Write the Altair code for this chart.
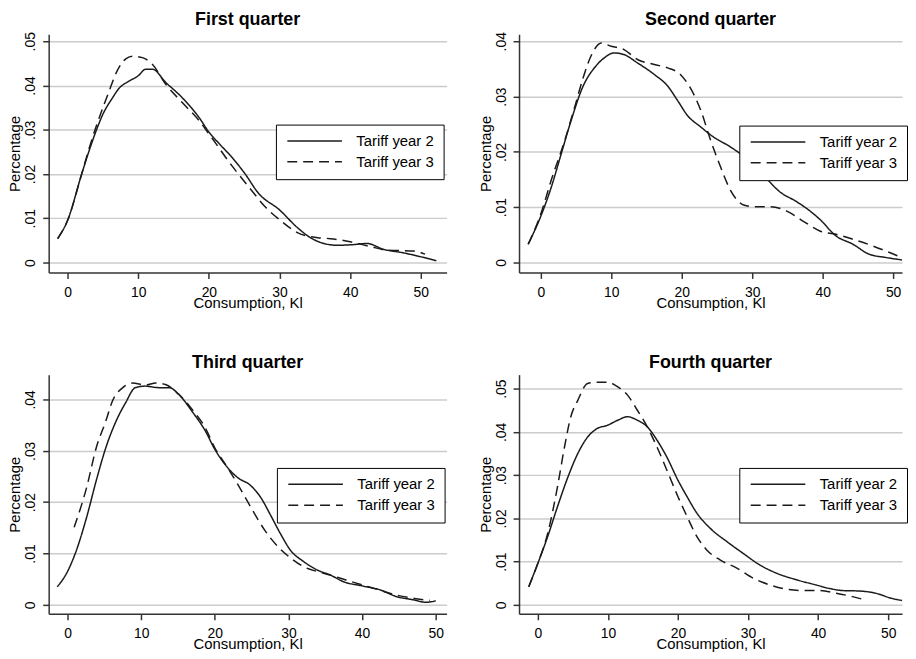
import altair as alt
import pandas as pd

SERIES = ["Tariff year 2", "Tariff year 3"]
X_TICKS = [0, 10, 20, 30, 40, 50]

# ---- First quarter ----
q1_x2 = [-1.4, 0, 2, 3, 4.1, 5, 6.4, 7.3, 8.5, 10, 11.1, 12, 13.9, 16.2, 18.6, 20, 21.5, 23.2, 25.1, 27, 30, 32.6, 34.4, 36.3, 38.2, 40, 42.4, 44.7, 47.5, 50, 52.2]
q1_y2 = [.0054, .0095, .0200, .0250, .0300, .0335, .0373, .0394, .0408, .0422, .0437, .0437, .0407, .0373, .0328, .0295, .0268, .0239, .0201, .0157, .0119, .0078, .0056, .0043, .0039, .0040, .0043, .0030, .0022, .0013, .0004]
q1_x3 = [-1.4, 0, 2, 3, 4, 5, 5.9, 6.9, 8.3, 9.2, 10.6, 12, 13.9, 16.2, 18.6, 20, 23.2, 26, 27.9, 30, 32.6, 35.4, 37.2, 40, 42.9, 45.2, 49, 50.6]
q1_y3 = [.0054, .0095, .0200, .0255, .0305, .0350, .0388, .0429, .0461, .0466, .0463, .0448, .0403, .0362, .0321, .0291, .0220, .0164, .0127, .0097, .0067, .0056, .0054, .0047, .0036, .0028, .0026, .0019]

# ---- Second quarter ----
q2_x2 = [-1.8, 0, 1.5, 2.9, 4.3, 6.0, 7.6, 9.0, 10.4, 11.8, 13.7, 16.1, 18.0, 19.4, 20.8, 22.7, 24.5, 26.9, 29.2, 31.6, 33.9, 36.3, 37.7, 39.6, 41.9, 44.3, 46.6, 49.0, 52.3]
q2_y2 = [.0033, .0084, .0137, .0197, .0257, .0319, .0352, .0370, .0379, .0376, .0361, .0340, .0319, .0293, .0266, .0245, .0227, .0209, .0188, .0158, .0128, .0110, .0098, .0078, .0048, .0033, .0015, .0009, .0003]
q2_x3 = [-1.8, 0, 1.5, 3.4, 4.8, 6.0, 7.1, 8.6, 10, 11.8, 13.7, 16.1, 18, 19.8, 21.2, 22.7, 24.1, 25.5, 26.9, 28.8, 30.2, 32.5, 34.9, 37.2, 39.6, 41.9, 44.3, 47.1, 49.5, 52.3]
q2_y3 = [.0033, .0088, .0150, .0221, .0281, .0334, .0373, .0397, .0391, .0385, .0367, .0358, .0352, .0340, .0316, .0275, .0221, .0173, .0131, .0104, .0101, .0101, .0093, .0075, .0057, .0051, .0042, .0030, .0018, .0003]

# ---- Third quarter ----
q3_x2 = [-1.4, 0, 1.2, 2.6, 3.9, 5.2, 6.6, 7.9, 9.2, 10.5, 12.4, 13.8, 15.1, 16.9, 18.7, 20, 21.7, 23.1, 24.9, 26.2, 27.6, 28.9, 30.3, 32.1, 33.9, 35.7, 37.5, 40, 42.5, 44.7, 46.9, 48.7, 50]
q3_y2 = [.0035, .0065, .0106, .0171, .0242, .0306, .0358, .0394, .0423, .0426, .0423, .0423, .0410, .0377, .0339, .0303, .0268, .0248, .0232, .0210, .0174, .0139, .0106, .0084, .0068, .0058, .0045, .0037, .0029, .0016, .0010, .0005, .0008]
q3_x3 = [0.9, 2.6, 3.9, 5.2, 6.1, 7.5, 8.8, 10.6, 12, 13.3, 15.1, 16.9, 18.7, 20, 21.7, 23.1, 24.9, 26.8, 28.6, 30.4, 32.1, 33.9, 35.7, 37.9, 40, 42.5, 44.7, 46.9, 48.3, 49.2]
q3_y3 = [.0151, .0229, .0306, .0358, .0397, .0423, .0432, .0428, .0432, .0429, .0410, .0381, .0345, .0306, .0268, .0235, .0190, .0145, .0113, .0090, .0074, .0065, .0058, .0048, .0039, .0028, .0019, .0013, .0010, .0009]

# ---- Fourth quarter ----
q4_x2 = [-1.3, 0, 1.4, 2.8, 4.3, 5.7, 7.1, 8.5, 9.9, 11.4, 12.8, 14.2, 15.6, 17.0, 18.4, 20, 21.3, 22.7, 24.6, 27, 29.3, 31.7, 34.1, 36.9, 39.7, 41.6, 43.5, 45.9, 48.2, 50.5, 52.9]
q4_y2 = [.0042, .0096, .0158, .0227, .0296, .0350, .0388, .0408, .0415, .0427, .0435, .0427, .0412, .0381, .0342, .0288, .0250, .0212, .0177, .0146, .0119, .0092, .0073, .0058, .0046, .0038, .0033, .0032, .0027, .0015, .0008]
q4_x3 = [-1.3, 0, 1.4, 2.8, 3.8, 4.7, 5.7, 7.1, 8.5, 9.9, 11.4, 12.8, 14.2, 15.6, 17, 18.4, 20, 21.3, 22.7, 24.1, 26, 28.4, 30.7, 33.1, 35.5, 37.8, 40.2, 42.6, 44.9, 46.6]
q4_y3 = [.0042, .0096, .0165, .0273, .0365, .0435, .0473, .0512, .0515, .0515, .0504, .0485, .0450, .0412, .0365, .0312, .0250, .0204, .0158, .0127, .0104, .0085, .0062, .0046, .0036, .0033, .0033, .0027, .0019, .0012]

FONT = "Liberation Sans"


def panel(title, x2, y2, x3, y3, xdom, ydom, yticks, w, h, legx, legy):
    df = pd.concat([
        pd.DataFrame({"x": x2, "y": y2, "series": SERIES[0]}),
        pd.DataFrame({"x": x3, "y": y3, "series": SERIES[1]}),
    ])
    return alt.Chart(
        df,
        title=alt.Title(title, fontSize=18, fontWeight="bold", font=FONT, color="black",
                        anchor="middle", baseline="alphabetic", offset=-11, frame="group"),
    ).mark_line(color="#1a1a1a", strokeWidth=1.5, interpolate="monotone", clip=True).encode(
        x=alt.X("x:Q", scale=alt.Scale(domain=xdom, nice=False, zero=False),
                axis=alt.Axis(values=X_TICKS, title="Consumption, Kl", grid=False,
                              labelPadding=7, titlePadding=-4)),
        y=alt.Y("y:Q", scale=alt.Scale(domain=ydom, nice=False, zero=False),
                axis=alt.Axis(values=yticks, title="Percentage", grid=True,
                              labelAngle=270, labelAlign="center", labelBaseline="bottom",
                              labelPadding=5, titlePadding=1,
                              labelExpr="datum.value == 0 ? '0' : slice(format(datum.value, '.2f'), 1)")),
        strokeDash=alt.StrokeDash(
            "series:N",
            scale=alt.Scale(domain=SERIES, range=[[1, 0], [10, 6]]),
            legend=alt.Legend(orient="none", legendX=legx, legendY=legy, title=None,
                              strokeColor="black", fillColor="white", padding=9,
                              symbolType="M-1,0H10", symbolSize=100, symbolStrokeWidth=1.5,
                              symbolStrokeColor="#1a1a1a",
                              labelFontSize=15, labelFont=FONT, labelColor="black",
                              labelOffset=57, rowPadding=5),
        ),
    ).properties(width=w, height=h)


p1 = panel("First quarter", q1_x2, q1_y2, q1_x3, q1_y3, [-2.67, 53.65], [-0.00224, 0.05157],
           [0, .01, .02, .03, .04, .05], 401, 240, 229, 91)
p2 = panel("Second quarter", q2_x2, q2_y2, q2_x3, q2_y3, [-3.1, 51.27], [-0.0018, 0.04126],
           [0, .01, .02, .03, .04], 386, 240, 222, 92)
p3 = panel("Third quarter", q3_x2, q3_y2, q3_x3, q3_y3, [-2.56, 51.48], [-0.00174, 0.04483],
           [0, .01, .02, .03, .04], 401, 241, 230, 94)
p4 = panel("Fourth quarter", q4_x2, q4_y2, q4_x3, q4_y3, [-2.69, 51.98], [-0.00207, 0.05323],
           [0, .01, .02, .03, .04, .05], 386, 241, 222, 94)

row1 = alt.hconcat(p1, p2, spacing=31).resolve_scale(x="independent", y="independent", strokeDash="independent").resolve_legend(strokeDash="independent")
row2 = alt.hconcat(p3, p4, spacing=31).resolve_scale(x="independent", y="independent", strokeDash="independent").resolve_legend(strokeDash="independent")

chart = alt.vconcat(row1, row2, spacing=44).resolve_scale(
    x="independent", y="independent", strokeDash="independent"
).resolve_legend(strokeDash="independent").configure(
    padding={"left": 0, "top": 0, "right": 0, "bottom": 0},
    background="white",
).configure_view(stroke=None).configure_axis(
    labelFont=FONT, labelFontSize=14, labelColor="black",
    titleFont=FONT, titleFontSize=15, titleFontWeight="normal", titleColor="black",
    domainColor="#333", domainWidth=1.5, tickColor="#333", tickWidth=1.5, tickSize=6,
    gridColor="#cccccc", gridWidth=1.5,
)

chart.save("out.html", embed_options={"renderer": "svg", "actions": False})
